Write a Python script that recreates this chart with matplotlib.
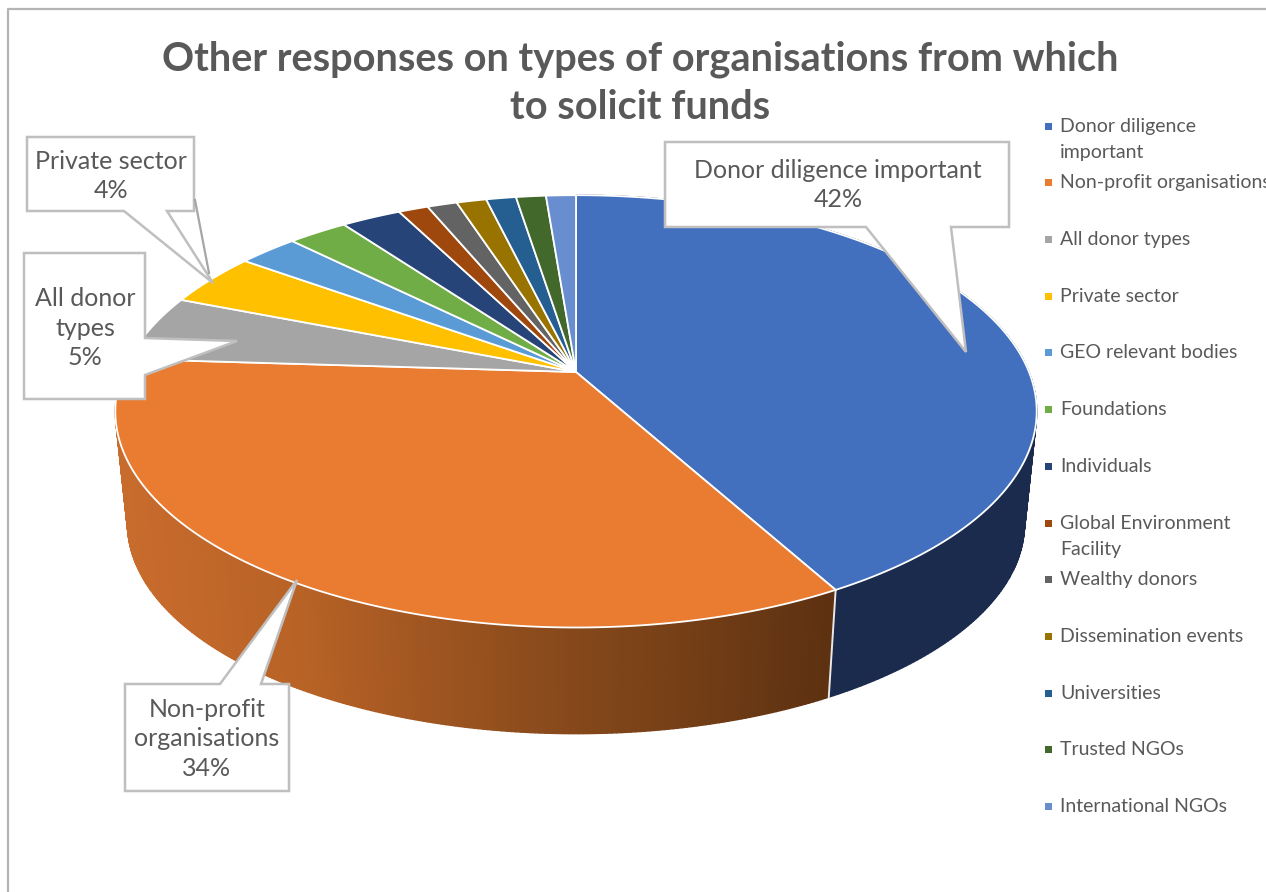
import numpy as np
import matplotlib
matplotlib.use('Agg')
import matplotlib.pyplot as plt
from matplotlib.colors import LinearSegmentedColormap
from matplotlib.patches import Polygon

plt.rcParams['font.family'] = ['Lato', 'DejaVu Sans']

categories = ['Donor diligence\nimportant', 'Non-profit organisations', 'All donor types',
              'Private sector', 'GEO relevant bodies', 'Foundations', 'Individuals',
              'Global Environment\nFacility', 'Wealthy donors', 'Dissemination events',
              'Universities', 'Trusted NGOs', 'International NGOs']
values = [42, 34, 5, 4, 2.5, 2.5, 2.5, 1.25, 1.25, 1.25, 1.25, 1.25, 1.25]
colors = ['#4270BF', '#E97C30', '#A5A5A5', '#FFC000', '#5B9BD5', '#70AD47', '#264478',
          '#9E480E', '#636363', '#997300', '#255E91', '#43682B', '#698ED0']
legend_y = [126, 182, 239, 296, 352, 409, 466, 523, 579, 636, 693, 749, 806]

TEXT = '#595959'
BORDER = '#BFBFBF'

# perspective disc: x right, y away from the viewer, on the unit circle
CX, K = 576, 0.182


def top_pt(t):
    x, y = np.sin(t), np.cos(t)
    w = 1 + K * y
    return CX + 453 * x / w, 372 - 209 * y / w


def bottom_pt(t):
    x, y = np.sin(t), np.cos(t)
    w = 1 + K * y
    return CX + 441 * x / w, 485.5 - 203 * y / w


fig = plt.figure(figsize=(12.66, 8.92), dpi=100)
ax = fig.add_axes([0, 0, 1, 1])
ax.set_xlim(0, 1266)
ax.set_ylim(892, 0)
ax.axis('off')

# chart frame, only the left and top edges are in view
ax.plot([8, 8, 1266], [892, 9, 9], color='#B4B4B4', lw=1.6, zorder=1)

ends = np.cumsum(values) / np.sum(values) * 2 * np.pi
starts = np.concatenate([[0], ends[:-1]])

# side wall of the first two slices, split into strips for the shading
side_cmap = LinearSegmentedColormap.from_list(
    'side', [(0, '#C86C2D'), (0.25, '#B86226'), (0.55, '#8F4D1D'), (0.8, '#733E16'), (1, '#5C3011')])
blue_side = '#1A2B4D'
for i in (0, 1):
    tt = np.linspace(starts[i], ends[i], 241)
    for a, b in zip(tt[:-1], tt[1:]):
        seg = np.linspace(a, b, 3)
        xt, yt = top_pt(seg)
        xb, yb = bottom_pt(seg)
        if i == 0:
            col = blue_side
        else:
            col = side_cmap((xt.mean() - 118) / (840 - 118))
        ax.fill(np.r_[xt, xb[::-1]], np.r_[yt, yb[::-1]], color=col, lw=1.0, zorder=2)

# seam between the two visible walls
seam = starts[1]
ax.plot([top_pt(seam)[0], bottom_pt(seam)[0]], [top_pt(seam)[1], bottom_pt(seam)[1]],
        color='#E8E8E8', lw=1.4, zorder=3)

# top face
for s, e, c in zip(starts, ends, colors):
    xs, ys = top_pt(np.linspace(s, e, 200))
    ax.add_patch(Polygon(np.c_[np.r_[CX, xs], np.r_[372, ys]], closed=True, facecolor=c,
                         edgecolor='white', lw=1.3, zorder=4, joinstyle='round'))

# callouts: box outline with a pointer running out to the slice
callouts = [
    ('Donor diligence important\n42%', (838, 185),
     [(665, 142), (1009, 142), (1009, 227), (951, 227), (966, 352), (866, 227), (665, 227)]),
    ('Non-profit\norganisations\n34%', (207, 739),
     [(125, 684), (220, 684), (297, 580), (261, 684), (289, 684), (289, 791), (125, 791)]),
    ('All donor\ntypes\n5%', (85, 328),
     [(24, 253), (145, 253), (145, 338), (237, 341), (145, 375), (145, 399), (24, 399)]),
    ('Private sector\n4%', (111, 176),
     [(27, 137), (194, 137), (194, 211), (167, 211), (213, 283), (124, 211), (27, 211)]),
]
for label, pos, outline in callouts:
    ax.add_patch(Polygon(outline, closed=True, facecolor='white', edgecolor=BORDER, lw=1.8,
                         zorder=6, joinstyle='miter'))
    ax.text(pos[0], pos[1], label, ha='center', va='center', color=TEXT, fontsize=18,
            linespacing=1.33, zorder=7)
ax.plot([195, 209], [200, 273], color='#A6A6A6', lw=1.6, zorder=7)

ax.text(640, 83, 'Other responses on types of organisations from which\nto solicit funds',
        ha='center', va='center', color=TEXT, fontsize=28.6, fontweight='bold', linespacing=1.36,
        zorder=7)

# legend
for label, c, y in zip(categories, colors, legend_y):
    ax.add_patch(Polygon([(1045, y - 3.5), (1052, y - 3.5), (1052, y + 3.5), (1045, y + 3.5)],
                         closed=True, facecolor=c, edgecolor='none', zorder=7))
    ax.text(1060, y - 8, label, ha='left', va='top', color=TEXT, fontsize=14, linespacing=1.62,
            zorder=7, clip_on=True)

fig.savefig('out.png', dpi=100, facecolor='white')
